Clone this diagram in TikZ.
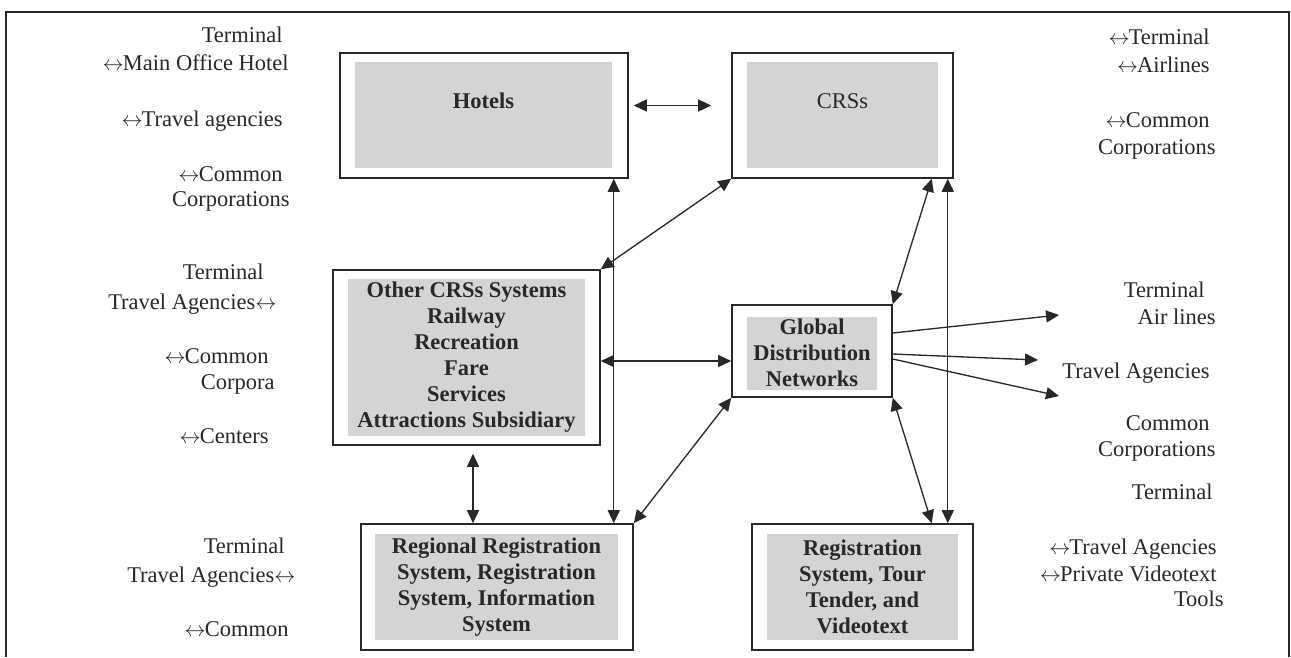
\documentclass[tikz,border=0pt]{standalone}
\usepackage{fontspec}
\setmainfont{Liberation Serif}
\usetikzlibrary{arrows.meta}
\definecolor{boxgray}{RGB}{211,212,214}
\definecolor{inkgray}{RGB}{40,40,40}
\newcommand{\diagfont}{\fontsize{12.8}{14.8}\selectfont}
\newcommand{\lra}{\ensuremath{\leftrightarrow}\kern-0.5pt}

\tikzset{
    outerbox/.style 2 args={draw=inkgray, line width=0.9pt, fill=white,
        minimum width=#1, minimum height=#2, inner sep=0pt},
    innerbox/.style 2 args={fill=boxgray, minimum width=#1, minimum height=#2,
        inner sep=0pt, align=center, font=\diagfont\bfseries, text=inkgray},
    lbl/.style={inner sep=0pt, anchor=mid east, text=inkgray, font=\diagfont},
    link/.style={line width=0.75pt, draw=inkgray},
}

\begin{document}
\begin{tikzpicture}[x=0.02cm, y=-0.02cm, >={Triangle[length=0.26cm,width=0.24cm]}]
    \useasboundingbox (0,0) rectangle (1291,657);
    \draw[line width=1.6pt, inkgray] (6,657) -- (6,12) -- (1289,12) -- (1289,657);

    % boxes
    \node[outerbox={5.76cm}{2.5cm}] (hotels) at (484,115.5) {};
    \node[innerbox={5.14cm}{0cm}, text height=0.92cm, text depth=1.2cm] (hotelsin) at (483.5,115) {Hotels};
    \node[outerbox={4.42cm}{2.5cm}] (crss) at (842.5,115.5) {};
    \node[innerbox={3.82cm}{0cm}, font=\diagfont, text height=0.92cm, text depth=1.2cm] (crssin) at (842.5,115) {CRSs};
    \node[outerbox={5.34cm}{3.5cm}] (other) at (466.5,357.5) {};
    \node[innerbox={4.74cm}{3.14cm}] (otherin) at (466.5,357.5)
        {Other CRSs Systems\\Railway\\Recreation\\Fare\\Services\\Attractions Subsidiary};
    \node[outerbox={3.2cm}{1.84cm}] (gdn) at (812,351) {};
    \node[innerbox={2.6cm}{1.46cm}] (gdnin) at (812,353) {Global\\Distribution\\Networks};
    \node[outerbox={5.44cm}{2.52cm}] (regional) at (497,587) {};
    \node[innerbox={4.86cm}{2.12cm}] (regionalin) at (496.5,587)
        {Regional Registration\\System, Registration\\System, Information\\System};
    \node[outerbox={4.42cm}{2.52cm}] (registration) at (862.5,587) {};
    \node[innerbox={3.82cm}{2.12cm}] (registrationin) at (862.5,587)
        {Registration\\System, Tour\\Tender, and\\Videotext};

    % free ends of the outgoing arrows
    \coordinate (toairlines) at (1059,315);
    \coordinate (toagencies) at (1038,360);
    \coordinate (tocommon) at (1059,396);

    % connectors
    \draw[link, <->, shorten <=0.1cm, shorten >=0.4cm] ([yshift=0.2cm]hotels.east) -- ([yshift=0.2cm]crss.west);
    \draw[link, <->] ([xshift=-0.3cm]hotels.south east) -- ([xshift=-0.3cm]hotels.south east |- regional.north);
    \draw[link, <->] (crss.south west) -- (other.north east);
    \draw[link, <->] ([yshift=-0.07cm]other.east) -- ([yshift=-0.07cm]other.east -| gdn.west);
    \draw[link, <->, shorten <=0.16cm] ([xshift=0.13cm]other.south) -- ([xshift=0.13cm]other.south |- regional.north);
    \draw[link, <->] (regional.north east) -- (gdn.south west);
    \draw[link, <->] ([xshift=-0.44cm]crss.south east) -- (gdn.north east);
    \draw[link, <->] ([xshift=-0.12cm]crss.south east) -- ([xshift=-0.12cm]crss.south east |- registration.north);
    \draw[link, <->] (gdn.south east) -- ([xshift=-0.84cm]registration.north east);
    \draw[link, ->] ([yshift=0.36cm]gdn.east) -- (toairlines);
    \draw[link, ->] ([yshift=-0.06cm]gdn.east) -- (toagencies);
    \draw[link, ->] ([yshift=-0.16cm]gdn.east) -- (tocommon);

    % side labels
    \foreach \x/\y/\t [count=\i] in {283/38/Terminal, 289/66/\lra Main Office Hotel,
            283/122/\lra Travel agencies, 283/177/\lra Common, 290/202/Corporations,
            264/275/Terminal, 276/305/Travel Agencies\lra, 269/359/\lra Common,
            275/385/Corpora, 269/439/\lra Centers, 285/549/Terminal,
            295/578/Travel Agencies\lra, 289/632/\lra Common}
        \node[lbl] (left\i) at (\x,\y) {\t};
    \foreach \x/\y/\t [count=\i] in {1210/40/\lra Terminal, 1210/68/\lra Airlines,
            1210/123/\lra Common, 1216/150/Corporations, 1205/293/Terminal,
            1216/320/Air lines, 1210/374/Travel Agencies, 1210/426/Common,
            1216/452/Corporations, 1213/495/Terminal, 1217/550/\lra Travel Agencies,
            1217/577/\lra Private Videotext, 1224/602/Tools}
        \node[lbl] (right\i) at (\x,\y) {\t};
\end{tikzpicture}
\end{document}
